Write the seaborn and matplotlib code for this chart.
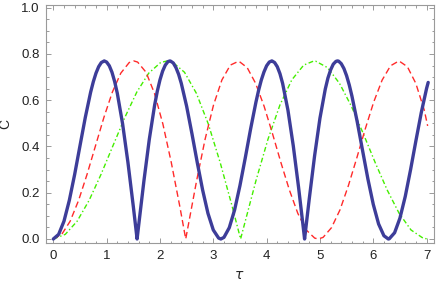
import numpy as np
import matplotlib
matplotlib.use("Agg")
import matplotlib.pyplot as plt
from matplotlib.ticker import MultipleLocator
import seaborn as sns
import pandas as pd

# blue curve (thick)
tau_blue = [0.0, 0.1, 0.2, 0.3, 0.4, 0.5, 0.6, 0.7, 0.75, 0.8, 0.85, 0.9, 0.955, 1.0, 1.05, 1.1, 1.15, 1.2,
            1.3, 1.4, 1.5, 1.571,
            1.6, 1.7, 1.8, 1.9, 1.95, 2.0, 2.05, 2.1, 2.15, 2.186, 2.2, 2.25, 2.3, 2.35, 2.4, 2.5, 2.6, 2.7,
            2.8, 2.9, 3.0, 3.1, 3.142,
            3.2, 3.3, 3.4, 3.5, 3.6, 3.7, 3.8, 3.85, 3.9, 3.95, 4.0, 4.05, 4.097, 4.1, 4.15, 4.2, 4.25, 4.3,
            4.4, 4.5, 4.6, 4.7, 4.712,
            4.8, 4.9, 5.0, 5.1, 5.15, 5.2, 5.25, 5.3, 5.328, 5.35, 5.4, 5.45, 5.5, 5.55, 5.6, 5.7, 5.8, 5.9,
            6.0, 6.1, 6.2, 6.283,
            6.3, 6.4, 6.5, 6.6, 6.7, 6.8, 6.9, 7.0, 7.03]
c_blue = [0.000, 0.020, 0.077, 0.167, 0.279, 0.403, 0.526, 0.635, 0.680, 0.717, 0.745, 0.763, 0.770, 0.765, 0.749, 0.721, 0.681, 0.630,
          0.497, 0.330, 0.141, 0.000,
          0.058, 0.253, 0.431, 0.579, 0.639, 0.688, 0.726, 0.752, 0.767, 0.770, 0.769, 0.761, 0.741, 0.712, 0.673, 0.574, 0.455, 0.330,
          0.212, 0.111, 0.039, 0.004, 0.000,
          0.007, 0.049, 0.126, 0.231, 0.351, 0.476, 0.592, 0.643, 0.687, 0.722, 0.749, 0.765, 0.770, 0.770, 0.763, 0.745, 0.715, 0.673,
          0.557, 0.403, 0.222, 0.025, 0.000,
          0.174, 0.360, 0.522, 0.648, 0.696, 0.731, 0.756, 0.768, 0.770, 0.769, 0.758, 0.737, 0.706, 0.666, 0.618, 0.506, 0.382, 0.259,
          0.150, 0.065, 0.014, 0.000,
          0.001, 0.027, 0.090, 0.184, 0.300, 0.425, 0.546, 0.651, 0.677]

# red curve (dashed)
tau_red = [0.000, 0.158, 0.316, 0.474, 0.632, 0.791, 0.949, 1.107, 1.265, 1.423, 1.510, 1.581, 1.739, 1.897,
           2.055, 2.213, 2.372, 2.483, 2.530, 2.688, 2.846, 3.004, 3.162, 3.320, 3.478, 3.636, 3.794, 3.953,
           4.111, 4.269, 4.427, 4.585, 4.743, 4.901, 4.967, 5.059, 5.217, 5.376, 5.534, 5.692, 5.850, 6.008,
           6.166, 6.324, 6.482, 6.640, 6.798, 6.957, 7.02]
c_red = [0.000, 0.020, 0.077, 0.167, 0.279, 0.403, 0.526, 0.635, 0.717, 0.763, 0.770, 0.765, 0.721, 0.630,
         0.497, 0.330, 0.141, 0.000, 0.058, 0.253, 0.431, 0.579, 0.688, 0.752, 0.769, 0.741, 0.673, 0.574,
         0.455, 0.330, 0.212, 0.111, 0.039, 0.004, 0.000, 0.007, 0.049, 0.126, 0.231, 0.351, 0.476, 0.592,
         0.687, 0.749, 0.770, 0.745, 0.673, 0.557, 0.489]

# green curve (dash-dot)
tau_green = [0.000, 0.224, 0.447, 0.671, 0.894, 1.118, 1.342, 1.565, 1.789, 2.012, 2.135, 2.236, 2.460, 2.683,
             2.907, 3.130, 3.354, 3.512, 3.578, 3.801, 4.025, 4.249, 4.472, 4.696, 4.888, 4.919, 5.143, 5.367,
             5.590, 5.814, 6.037, 6.261, 6.485, 6.708, 6.932, 7.02]
c_green = [0.000, 0.020, 0.077, 0.167, 0.279, 0.403, 0.526, 0.635, 0.717, 0.763, 0.770, 0.765, 0.721, 0.630,
           0.497, 0.330, 0.141, 0.000, 0.058, 0.253, 0.431, 0.579, 0.688, 0.752, 0.770, 0.769, 0.741, 0.673,
           0.574, 0.455, 0.330, 0.212, 0.111, 0.039, 0.004, 0.000]

sns.set_style("ticks")
plt.rcParams['font.family'] = ['Liberation Sans', 'DejaVu Sans']

fig = plt.figure(figsize=(4.36, 2.86), dpi=100)
ax = fig.add_axes([0.1048, 0.1493, 0.8895, 0.8315])

df_b = pd.DataFrame({'tau': tau_blue, 'C': c_blue})
df_r = pd.DataFrame({'tau': tau_red, 'C': c_red})
df_g = pd.DataFrame({'tau': tau_green, 'C': c_green})

sns.lineplot(data=df_g, x='tau', y='C', ax=ax, color='#44ee00', lw=1.0, estimator=None)
ax.lines[-1].set_dashes((3.5, 1.8, 1.0, 1.8))
sns.lineplot(data=df_r, x='tau', y='C', ax=ax, color='#ff2a2a', lw=1.0, estimator=None)
ax.lines[-1].set_dashes((4.6, 2.6))
sns.lineplot(data=df_b, x='tau', y='C', ax=ax, color='#3d3d99', lw=2.4, estimator=None)

ax.set_xlim(-0.143, 7.13)
ax.set_ylim(-0.0186, 1.0097)
ax.xaxis.set_major_locator(MultipleLocator(1))
ax.xaxis.set_minor_locator(MultipleLocator(0.2))
ax.yaxis.set_major_locator(MultipleLocator(0.2))
ax.yaxis.set_minor_locator(MultipleLocator(0.05))
ax.set_yticklabels(['%.1f' % v for v in ax.get_yticks()])

for s in ax.spines.values():
    s.set_color('#9a9a9a')
    s.set_linewidth(0.8)
ax.tick_params(which='both', direction='in', top=True, right=True, color='#9a9a9a', width=0.7,
               labelsize=9.5, labelcolor='#222222')
ax.tick_params(which='major', length=3.5, pad=4.5)
ax.tick_params(which='minor', length=1.8)

ax.set_xlabel(r'$\tau$', fontsize=10, labelpad=5)
ax.set_ylabel('C', fontsize=10, labelpad=6)

fig.savefig('out.png', dpi=100)
